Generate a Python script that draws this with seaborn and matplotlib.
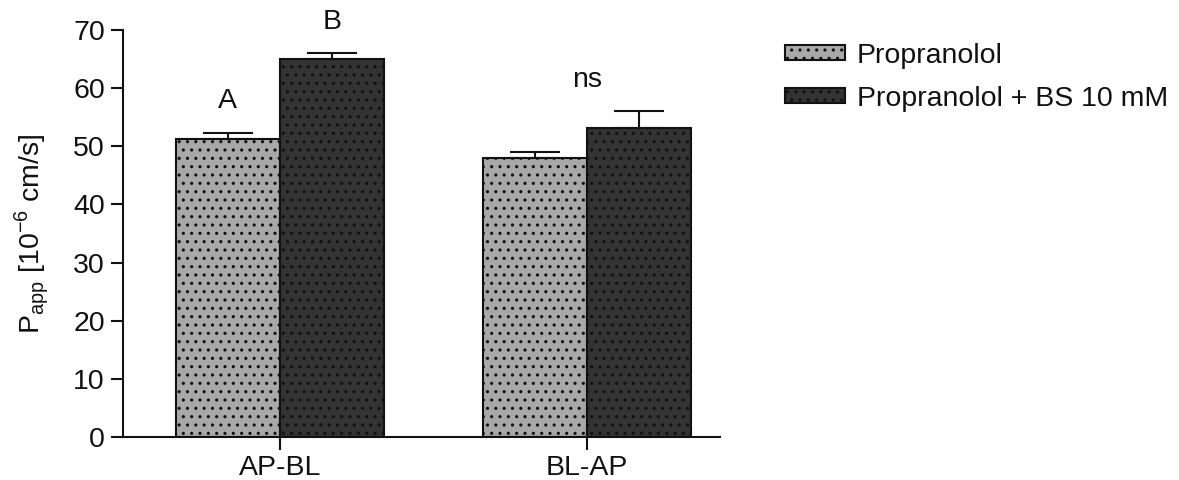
import matplotlib
matplotlib.use("Agg")
import matplotlib.pyplot as plt
import seaborn as sns
import pandas as pd
import numpy as np

# Apparent permeability of propranolol, mean and upper SD per transport direction
directions = ["AP-BL", "BL-AP"]
treatments = ["Propranolol", "Propranolol + BS 10 mM"]
propranolol_mean = [51.3, 48.0]
propranolol_sd = [1.0, 1.0]
bs_mean = [65.0, 53.1]
bs_sd = [1.0, 3.0]
significance = ["A", "B", "ns"]

FS = 20.5
INK = "#111111"

sns.set_theme(style="ticks")
plt.rcParams["font.family"] = ["Liberation Sans", "DejaVu Sans"]
plt.rcParams["hatch.linewidth"] = 1.1
plt.rcParams["hatch.color"] = INK
plt.rcParams["text.color"] = INK
plt.rcParams["axes.labelcolor"] = INK
plt.rcParams["xtick.color"] = INK
plt.rcParams["ytick.color"] = INK

df = pd.DataFrame({
    "direction": directions * 2,
    "treatment": [treatments[0]] * 2 + [treatments[1]] * 2,
    "papp": propranolol_mean + bs_mean,
    "sd": propranolol_sd + bs_sd,
})

fig = plt.figure(figsize=(11.79, 4.8), dpi=100)
ax = fig.add_axes([0.1043, 0.0896, 0.5064, 0.8479])

palette = {treatments[0]: "#a8a8a8", treatments[1]: "#333333"}
sns.barplot(data=df, x="direction", y="papp", hue="treatment", order=directions,
            hue_order=treatments, palette=palette, width=0.678, gap=0,
            edgecolor=INK, linewidth=1.5, saturation=1, errorbar=None,
            legend=True, ax=ax)

# Dotted fill on every bar and its legend handle
for p in ax.patches:
    p.set_hatch("..")

# Upper-only error bars at each bar's centre
for cont, tr in zip(ax.containers, treatments):
    sub = df[df.treatment == tr].set_index("direction").loc[directions]
    xs = [r.get_x() + r.get_width() / 2 for r in cont]
    ax.errorbar(xs, sub["papp"].values,
                yerr=[np.zeros(len(xs)), sub["sd"].values],
                fmt="none", ecolor=INK, elinewidth=1.5,
                capsize=18, capthick=1.5, zorder=3)

# Significance letters above the bars
c0 = [r.get_x() + r.get_width() / 2 for r in ax.containers[0]]
c1 = [r.get_x() + r.get_width() / 2 for r in ax.containers[1]]
ax.text(c0[0], 55.6, significance[0], ha="center", va="bottom", fontsize=FS)
ax.text(c1[0], 69.2, significance[1], ha="center", va="bottom", fontsize=FS)
ax.text((c0[1] + c1[1]) / 2, 59.2, significance[2], ha="center", va="bottom", fontsize=FS)

ax.set_ylim(0, 70)
ax.set_xlim(-0.511, 1.433)
ax.set_yticks(range(0, 71, 10))
ax.set_xlabel("")
ax.set_ylabel(r"P$_{\mathregular{app}}$ [10$^{\mathregular{-6}}$ cm/s]", fontsize=FS, labelpad=16)
ax.tick_params(axis="both", labelsize=FS, length=9, width=1.5, pad=4)
for s in ["top", "right"]:
    ax.spines[s].set_visible(False)
for s in ["left", "bottom"]:
    ax.spines[s].set_linewidth(1.5)
    ax.spines[s].set_color(INK)

handles, labels = ax.get_legend_handles_labels()
ax.get_legend().remove()
fig.legend(handles, labels, loc="upper left", bbox_to_anchor=(0.6565, 0.935),
           frameon=False, fontsize=FS, handlelength=2.1, handleheight=0.45,
           handletextpad=0.4, labelspacing=0.6, borderaxespad=0)

fig.savefig("out.png", dpi=100)
